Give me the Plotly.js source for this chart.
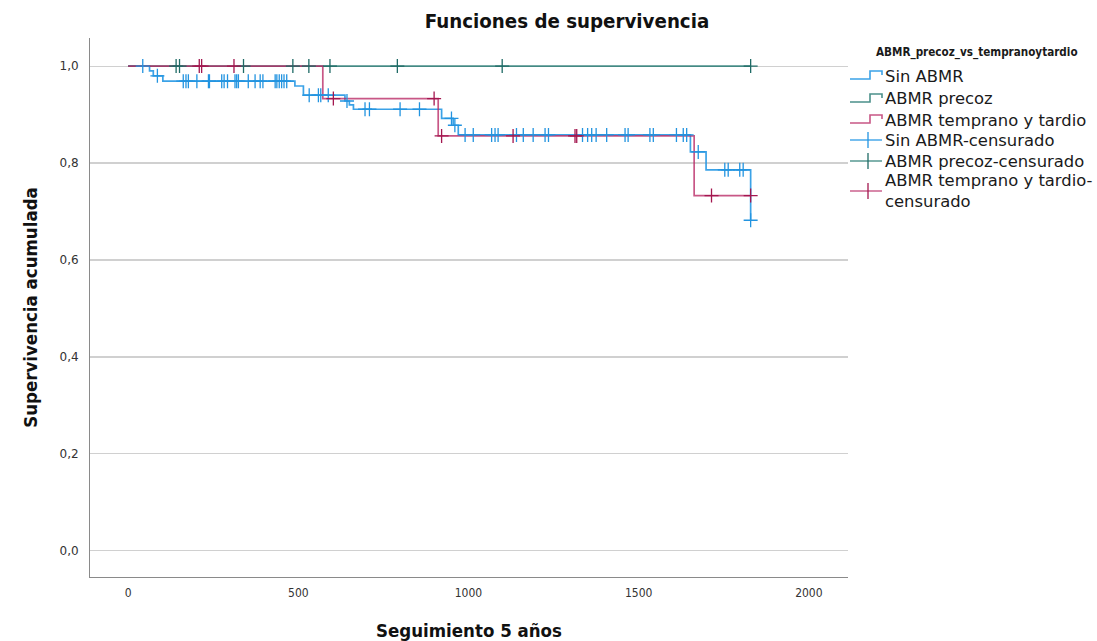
<!DOCTYPE html>
<html>
<head>
<meta charset="utf-8">
<script src="https://cdn.plot.ly/plotly-3.0.1.min.js"></script>
<style>
  html, body { margin: 0; padding: 0; background: #fff; }
  #chart { width: 1097px; height: 641px; }
</style>
</head>
<body>
<div id="chart"></div>
<script>
// Kaplan-Meier estimates: step change times (days) and survival after each step
const sinAbmrTimes = [0, 63, 74, 102, 490, 515, 637, 650, 662, 921, 955, 970, 1652, 1698, 1829];
const sinAbmrSurv  = [1, 0.990, 0.980, 0.969, 0.959, 0.940, 0.928, 0.920, 0.911, 0.892, 0.878, 0.858, 0.823, 0.786, 0.682];

const precozTimes = [0, 1829];
const precozSurv  = [1, 1];

const tempranoTimes = [0, 572, 911, 1663, 1829];
const tempranoSurv  = [1, 0.933, 0.856, 0.733, 0.733];

// Censored follow-up times (days)
const sinAbmrCensored = [43, 86, 162, 170, 177, 202, 236, 239, 275, 282, 292, 314, 319, 324, 353, 373, 388, 396,
  432, 437, 444, 451, 458, 466, 532, 559, 566, 588, 643, 696, 709, 799, 856, 950, 960,
  990, 1014, 1068, 1078, 1087, 1141, 1161, 1190, 1225, 1235, 1335, 1350, 1362, 1375, 1406,
  1460, 1469, 1533, 1543, 1611, 1631, 1641, 1675, 1753, 1763, 1797, 1807, 1829];
const precozCensored = [141, 151, 339, 484, 531, 593, 791, 1099, 1829];
const tempranoCensored = [209, 216, 311, 603, 899, 921, 1131, 1313, 1318, 1714, 1829];

// Group labels and text
const groupNames = ['Sin ABMR', 'ABMR precoz', 'ABMR temprano y tardio'];
const censoredSuffix = '-censurado';
const legendTitle = 'ABMR_precoz_vs_tempranoytardio';
const chartTitle = 'Funciones de supervivencia';
const xTitle = 'Seguimiento 5 años';
const yTitle = 'Supervivencia acumulada';
const xTickValues = [0, 500, 1000, 1500, 2000];
const yTickValues = [0, 0.2, 0.4, 0.6, 0.8, 1.0];

const lineColors = ['rgba(38,152,228,0.9)', 'rgba(44,124,118,0.85)', 'rgba(185,40,100,0.78)'];
const markColors = ['#2394e0', '#1f6b66', '#a3174f'];

// survival value of a step function at time t (value after any step at t)
function stepAt(times, surv, t) {
  let v = surv[0];
  for (let i = 0; i < times.length; i++) {
    if (times[i] <= t) v = surv[i];
  }
  return v;
}

const groups = [
  { t: sinAbmrTimes, s: sinAbmrSurv, c: sinAbmrCensored },
  { t: precozTimes, s: precozSurv, c: precozCensored },
  { t: tempranoTimes, s: tempranoSurv, c: tempranoCensored }
];

const traces = [];
groups.forEach((g, i) => {
  traces.push({
    type: 'scatter', mode: 'lines', x: g.t, y: g.s,
    line: { shape: 'hv', color: lineColors[i], width: 1.7 },
    name: groupNames[i], showlegend: false, hoverinfo: 'x+y'
  });
});
groups.forEach((g, i) => {
  traces.push({
    type: 'scatter', mode: 'markers', x: g.c, y: g.c.map(t => stepAt(g.t, g.s, t)),
    marker: { symbol: 'cross-thin', size: 10, line: { color: markColors[i], width: 1.3 } },
    name: groupNames[i] + censoredSuffix, showlegend: false, hoverinfo: 'x+y'
  });
});

// Plot-area geometry in pixels (used to place the hand-built legend)
const L = 90, R = 848, T = 38, B = 577;
const px = x => (x - L) / (R - L);
const py = y => (B - y) / (B - T);

const shapes = [];
const annotations = [];
const legendFont = { family: 'DejaVu Sans, sans-serif', size: 16.4, color: '#1a1a1a' };

// legend entries: step icons for curves, cross icons for censored marks
const legendRows = [76, 99, 120, 140, 161];
groupNames.forEach((name, i) => {
  const yc = legendRows[i];
  const path = 'M ' + px(850) + ',' + py(yc + 3) + ' L ' + px(870) + ',' + py(yc + 3) +
    ' L ' + px(870) + ',' + py(yc - 5) + ' L ' + px(882) + ',' + py(yc - 5) +
    ' L ' + px(882) + ',' + py(yc - 1);
  shapes.push({ type: 'path', xref: 'paper', yref: 'paper', path: path,
    line: { color: lineColors[i], width: 1.6 } });
  annotations.push({ xref: 'paper', yref: 'paper', x: px(883), y: py(yc), xanchor: 'left',
    yanchor: 'middle', text: name, showarrow: false, font: legendFont });
});
const censRows = [140, 161, 191];
groupNames.forEach((name, i) => {
  const yc = censRows[i];
  shapes.push({ type: 'line', xref: 'paper', yref: 'paper', x0: px(850), x1: px(882),
    y0: py(yc), y1: py(yc), line: { color: lineColors[i], width: 1.4 } });
  shapes.push({ type: 'line', xref: 'paper', yref: 'paper', x0: px(868), x1: px(868),
    y0: py(yc - 8), y1: py(yc + 8), line: { color: markColors[i], width: 1.3 } });
  const label = i === 2 ? name + '-<br>' + censoredSuffix.slice(1) : name + censoredSuffix;
  annotations.push({ xref: 'paper', yref: 'paper', x: px(883), y: py(yc), xanchor: 'left',
    yanchor: 'middle', align: 'left', text: label, showarrow: false, font: legendFont });
});
annotations.push({ xref: 'paper', yref: 'paper', x: px(977), y: py(52), xanchor: 'center',
  yanchor: 'middle', text: '<b>' + legendTitle + '</b>', showarrow: false,
  font: { family: 'DejaVu Sans Condensed, DejaVu Sans, sans-serif', size: 11.6, color: '#1a1a1a' } });

const layout = {
  width: 1097, height: 641,
  margin: { l: L, r: 1097 - R, t: T, b: 641 - B, pad: 0 },
  paper_bgcolor: '#fff', plot_bgcolor: '#fff',
  separators: ',.',
  showlegend: false,
  title: {
    text: '<b>' + chartTitle + '</b>', x: px(567), xref: 'paper', xanchor: 'center',
    y: 1 - 21 / 641, yanchor: 'middle',
    font: { family: 'DejaVu Sans Condensed, DejaVu Sans, sans-serif', size: 20.3, color: '#111' }
  },
  xaxis: {
    range: [-112, 2115], tickvals: xTickValues, ticktext: xTickValues.map(String),
    showgrid: false, zeroline: false, showline: true, linecolor: '#8a8a8a', linewidth: 1,
    ticks: '', ticklabelstandoff: 5,
    tickfont: { family: 'DejaVu Sans Condensed, DejaVu Sans, sans-serif', size: 12, color: '#333' },
    title: { text: '<b>' + xTitle + '</b>', standoff: 24,
      font: { family: 'DejaVu Sans Condensed, DejaVu Sans, sans-serif', size: 18.5, color: '#111' } }
  },
  yaxis: {
    range: [-0.054, 1.058], tickvals: yTickValues, tickformat: '.1f',
    showgrid: true, gridcolor: '#d0d0d0', gridwidth: 1.2, zeroline: false,
    showline: true, linecolor: '#8a8a8a', linewidth: 1, ticks: '', ticklabelstandoff: 8,
    tickfont: { family: 'DejaVu Sans, sans-serif', size: 12, color: '#333' },
    title: { text: '<b>' + yTitle + '</b>', standoff: 17,
      font: { family: 'DejaVu Sans Condensed, DejaVu Sans, sans-serif', size: 18.5, color: '#111' } }
  },
  shapes: shapes,
  annotations: annotations
};

Plotly.newPlot('chart', traces, layout, { displayModeBar: false, staticPlot: true });
</script>
</body>
</html>
